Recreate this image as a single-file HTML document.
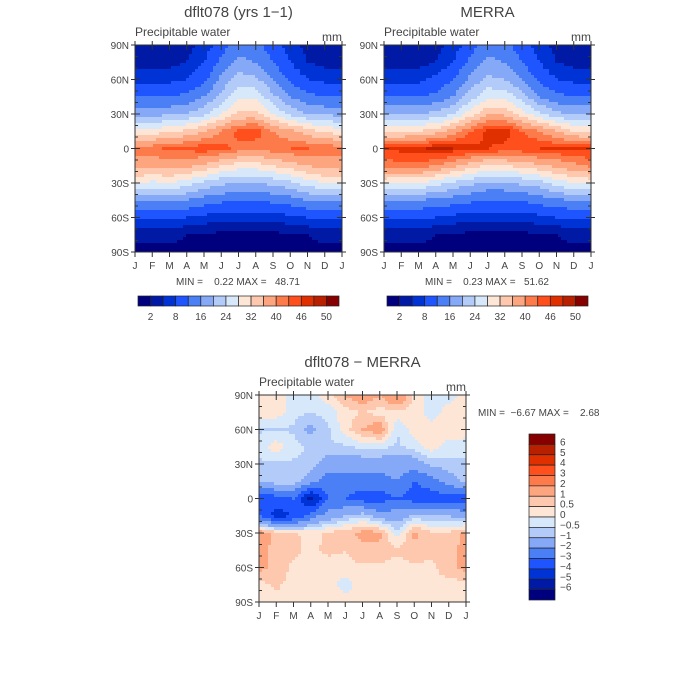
<!DOCTYPE html>
<html><head><meta charset="utf-8"><style>
body{margin:0;background:#fff;}
svg{display:block;font-family:"Liberation Sans","DejaVu Sans",sans-serif;}
text{fill:#444;white-space:pre;}
</style></head><body>
<svg id="fig" width="700" height="700" viewBox="0 0 700 700" xmlns="http://www.w3.org/2000/svg" xml:space="preserve"></svg>
<script>
// ---- data (rows 90N..90S every 15°, cols Jan..Jan) ----
const months = ["J","F","M","A","M","J","J","A","S","O","N","D","J"];
const latLabels = ["90N","60N","30N","0","30S","60S","90S"];
const fullLevels = [2,5,8,12,16,20,24,28,32,36,40,43,46,48,50];
const fullTickLabels = ["2","8","16","24","32","40","46","50"];
const diffLevels = [-6,-5,-4,-3,-2,-1,-0.5,0,0.5,1,2,3,4,5,6];
const diffTickLabels = ["6","5","4","3","2","1","0.5","0","\u22120.5","\u22121","\u22122","\u22123","\u22124","\u22125","\u22126"];
const palette = ["#00007f","#001aa6","#0033d6","#1f55ff","#4a7ff5","#85a8f7","#b3cbf8","#d8e8fb","#fee6d6","#fdc8ae","#fda57f","#fd7b4a","#ff4f1c","#e03000","#b82000","#870000"];
const modelGrid = [
[3,3,3,4,6,10,14,13,10,6,4,3,3],
[4,4,4,5,8,13,17,16,12,8,5,4,4],
[7,7,7,8,11,17,22,21,16,11,8,7,7],
[12,12,12,13,16,21,27,27,21,16,13,12,12],
[19,19,19,20,23,28,33,33,28,23,20,19,19],
[30,30,31,33,36,40,44,45,40,37,34,31,30],
[42,42,44,44,45,44,42,41,42,43,43,42,42],
[38,37,38,37,35,32,30,30,32,34,36,38,38],
[29,27,28,26,23,21,20,20,21,23,26,28,29],
[17,17,17,16,14,13,12,12,13,14,16,17,17],
[9,9,9,8,7,6,6,6,6,7,8,9,9],
[3,3,3,2,2,1,1,1,1,2,2,3,3],
[1,1,1,1,1,0.5,0.5,0.5,0.5,1,1,1,1]];
const merraGrid = [
[3,3,3,4,6,10,14,13,10,6,4,3,3],
[4,4,4,5,8,13,17,16,12,8,5,4,4],
[7,7,7,9,12,17,21,20,16,11,8,7,7],
[12,12,12,13,16,22,27,27,22,16,13,12,12],
[20,20,20,21,24,30,35,35,30,25,21,20,20],
[31,31,32,34,38,43,47,48,43,40,36,32,31],
[46,47,47,49,48,47,46,45,45,46,46,46,46],
[41,42,42,40,37,34,31,32,33,35,37,39,41],
[29,27,28,26,23,21,19,19,21,22,26,28,29],
[16,16,16,15,14,13,12,12,12,14,15,16,16],
[8,8,8,8,7,6,6,6,6,7,8,8,8],
[3,3,3,2,2,1,1,1,1,2,2,3,3],
[1,1,1,1,1,0.5,0.5,0.5,0.5,1,1,1,1]];
const diffGrid = [
[0.3,0.3,-0.3,-0.3,0.3,1,1.5,1,2,0.3,-0.3,-0.3,0.3],
[0.3,0.3,-0.3,-0.5,-0.3,0.3,0.5,0.3,0.3,0.3,-0.3,0.3,0.3],
[-0.6,-0.5,-0.6,-1.2,-0.6,0.3,1,1.5,-0.5,0.3,0.3,0.5,0.3],
[-0.3,0.3,-0.3,-0.6,-0.6,-0.6,-0.3,-0.3,-0.6,-0.3,0.3,-0.3,-0.3],
[-0.6,-0.6,-0.6,-0.6,-1.5,-1.5,-1.5,-1.5,-1.5,-1.5,-0.8,-0.6,-0.6],
[-0.8,-0.6,-0.6,-1.5,-2.5,-2.5,-2.5,-2.5,-2,-3,-2.5,-1.5,-0.8],
[-3.5,-3.5,-3,-5.5,-3,-3,-3.5,-3.5,-3,-3.5,-3.5,-3.5,-3.5],
[-3,-4.5,-4,-2.5,-1.5,-1,-0.6,-1.5,-1.5,-0.8,-1,-1,-1.5],
[1.5,0.8,0.6,0.3,0.6,0.8,1.2,1.2,-0.3,1.2,0.6,0.6,1.2],
[1.2,0.8,0.6,0.4,0.6,0.5,0.8,0.8,0.6,0.8,0.6,0.8,1.2],
[1.2,0.8,0.4,0.3,0.3,0.4,0.4,0.4,0.3,0.4,0.4,0.8,1.2],
[0.3,0.6,0.3,0.3,0.3,-0.3,0.3,0.3,0.3,0.3,0.3,0.3,0.3],
[0.3,0.3,0.3,0.3,0.3,0.3,0.3,0.3,0.3,0.3,0.3,0.3,0.3]];

const NS="http://www.w3.org/2000/svg";
const svg=document.getElementById('fig');
function mk(tag,attrs,parent){const e=document.createElementNS(NS,tag);for(const k in attrs)e.setAttribute(k,attrs[k]);(parent||svg).appendChild(e);return e;}
function txt(x,y,s,size,anchor,name,parent){const t=mk('text',{x:x,y:y,'font-size':size,'text-anchor':anchor||'start'},parent);t.textContent=s;


return t;}
function sample(g,u,v){
 const i=Math.min(Math.floor(v),11),j=Math.min(Math.floor(u),11),fv=v-i,fu=u-j;
 return g[i][j]*(1-fu)*(1-fv)+g[i][j+1]*fu*(1-fv)+g[i+1][j]*(1-fu)*fv+g[i+1][j+1]*fu*fv;}
function level(val,lv){let k=0;while(k<lv.length&&val>=lv[k])k++;return k;}

function panel(px,py,grid,lv,name,title,minmax,mmx,mmy,mmAnchor){
 const W=207,H=207,n=69,c=W/n;
 const g=mk('g',{});
 
 
 const field=mk('g',{'shape-rendering':'crispEdges'},g);
 
 
 for(let r=0;r<n;r++)for(let q=0;q<n;q++){
  const v=sample(grid,(q+0.5)/n*12,(r+0.5)/n*12);
  mk('rect',{x:px+q*c,y:py+r*c,width:c+0.4,height:c+0.4,fill:palette[level(v,lv)]},field);}
 const fr=mk('rect',{x:px,y:py,width:W,height:H,fill:'none',stroke:'#333','stroke-width':1},g);
 
 
 for(let k=0;k<=18;k++){const y=py+k*H/18,L=(k%3==0)?5:3;
  mk('line',{x1:px,x2:px+L,y1:y,y2:y,stroke:'#333'},g);mk('line',{x1:px+W,x2:px+W-L,y1:y,y2:y,stroke:'#333'},g);
  mk('line',{x1:px,x2:px-(k%3==0?4:0),y1:y,y2:y,stroke:'#333'},g);mk('line',{x1:px+W,x2:px+W+(k%3==0?4:0),y1:y,y2:y,stroke:'#333'},g);}
 latLabels.forEach((s,k)=>txt(px-6,py+k*H/6+4,s,10,'end','lat-label',g));
 for(let m=0;m<13;m++){const x=px+m*W/12;
  mk('line',{x1:x,x2:x,y1:py,y2:py+5,stroke:'#333'},g);mk('line',{x1:x,x2:x,y1:py-4,y2:py,stroke:'#333'},g);
  mk('line',{x1:x,x2:x,y1:py+H,y2:py+H+5,stroke:'#333'},g);
  txt(x,py+H+17,months[m],10,'middle','month-label',g);}
 txt(px+W/2,py-28,title,15,'middle','panel-title',g);
 txt(px,py-9,'Precipitable water',12,'start','variable-label',g);
 txt(px+W,py-4,'mm',12,'end','units-label',g);
 txt(mmx,mmy,minmax,10,mmAnchor,'min-max-label',g);
}
panel(135,45,modelGrid,fullLevels,'model-panel','dflt078 (yrs 1\u22121)','MIN =    0.22 MAX =   48.71',238,285,'middle');
panel(384,45,merraGrid,fullLevels,'merra-panel','MERRA','MIN =    0.23 MAX =   51.62',487,285,'middle');
panel(259,395,diffGrid,diffLevels,'diff-panel','dflt078 \u2212 MERRA','MIN =  \u22126.67 MAX =    2.68',478,416,'start');

function hbar(x0,y0,name){const w=201/16;const g=mk('g',{});
 
 
 palette.forEach((col,k)=>{const r=mk('rect',{x:x0+k*w,y:y0,width:w,height:10,fill:col,stroke:'#222','stroke-width':0.7},g);
  
  });
 fullTickLabels.forEach((s,k)=>txt(x0+(2*k+1)*w,y0+24,s,10,'middle','colorbar-label',g));}
hbar(138,296,'model-colorbar');hbar(387,296,'merra-colorbar');
(function(){const x0=529,y0=434,h=166/16;const g=mk('g',{});
 
 
 for(let k=0;k<16;k++){const r=mk('rect',{x:x0,y:y0+k*h,width:26,height:h,fill:palette[15-k],stroke:'#222','stroke-width':0.7},g);
  
  }
 diffTickLabels.forEach((s,k)=>txt(x0+31,y0+(k+1)*h+1,s,10,'start','colorbar-label',g));})();
</script>
</body></html>
